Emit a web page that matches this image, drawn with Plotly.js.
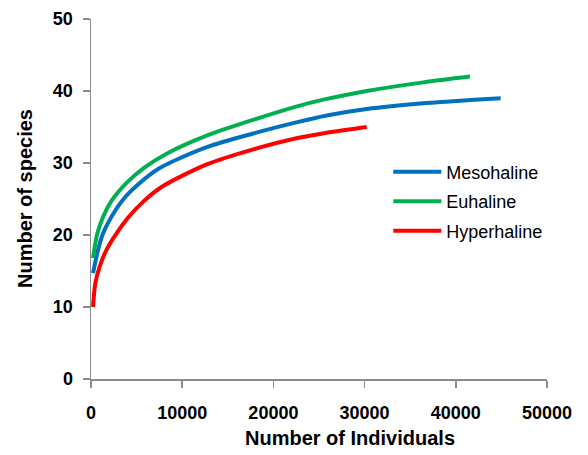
<!DOCTYPE html>
<html>
<head>
<meta charset="utf-8">
<script src="https://cdn.plot.ly/plotly-3.0.1.min.js"></script>
<style>html,body{margin:0;padding:0;background:#fff;}#chart{width:588px;height:455px;}</style>
</head>
<body>
<div id="chart"></div>
<script>
var seriesNames = ["Mesohaline", "Euhaline", "Hyperhaline"];
var mesoX = [220, 768, 1316, 2230, 3509, 5154, 7400, 12686, 17800, 22400, 25843, 30230, 36440, 41557, 44920];
var mesoY = [14.7, 17.9, 20.2, 22.5, 24.9, 27.0, 29.2, 32.2, 34.1, 35.6, 36.6, 37.5, 38.3, 38.75, 39.0];
var euX = [220, 694, 1316, 2230, 3874, 5885, 8443, 12686, 17800, 22400, 25843, 30230, 36440, 41557];
var euY = [16.8, 20.2, 22.5, 24.7, 27.2, 29.4, 31.4, 33.8, 36.0, 37.8, 38.9, 40.0, 41.2, 42.0];
var hyX = [220, 475, 950, 1682, 2778, 4057, 5702, 7650, 12686, 17800, 22400, 25843, 30230];
var hyY = [10.0, 13.3, 15.6, 17.9, 20.2, 22.4, 24.6, 26.6, 29.8, 31.9, 33.4, 34.2, 35.0];
var xTicks = [0, 10000, 20000, 30000, 40000, 50000];
var yTicks = [0, 10, 20, 30, 40, 50];
var colors = ["#0070C0", "#00B050", "#FF0000"];

var xs = [mesoX, euX, hyX], ys = [mesoY, euY, hyY];
var traces = seriesNames.map(function (n, i) {
  return {
    x: xs[i], y: ys[i], name: n, type: "scatter", mode: "lines",
    line: {color: colors[i], width: 4, shape: "spline", smoothing: 0.8},
    legendgroup: "g" + i
  };
});

var axisCommon = {
  showgrid: false, zeroline: false, showline: true, linecolor: "#8c8c8c", linewidth: 1.5,
  ticks: "outside", ticklen: 7, tickcolor: "#8c8c8c", tickwidth: 1.5,
  tickfont: {family: "Arial, Liberation Sans, sans-serif", size: 18, color: "#000", weight: "bold"}
};

var layout = {
  width: 588, height: 455,
  margin: {l: 91, r: 41, t: 19, b: 76},
  paper_bgcolor: "#fff", plot_bgcolor: "#fff",
  showlegend: true,
  legend: {
    x: 0.652, y: 0.626, xanchor: "left", yanchor: "top",
    font: {family: "Arial, Liberation Sans, sans-serif", size: 18, color: "#000"},
    traceorder: "grouped", tracegroupgap: 3, itemwidth: 48, bgcolor: "rgba(0,0,0,0)"
  },
  xaxis: Object.assign({}, axisCommon, {range: [0, 50000], tickvals: xTicks, ticktext: xTicks.map(String), ticklabelstandoff: 10}),
  yaxis: Object.assign({}, axisCommon, {range: [0, 50], tickvals: yTicks, ticktext: yTicks.map(String), ticklabelstandoff: 6}),
  annotations: [
    {text: "Number of Individuals", xref: "paper", yref: "paper", x: (350 - 91) / 456, y: -(438 - 379) / 360,
     xanchor: "center", yanchor: "middle", showarrow: false,
     font: {family: "Arial, Liberation Sans, sans-serif", size: 20, color: "#000", weight: "bold"}},
    {text: "Number of species", xref: "paper", yref: "paper", x: -(91 - 25) / 456, y: 0.5,
     xanchor: "center", yanchor: "middle", showarrow: false, textangle: -90,
     font: {family: "Arial, Liberation Sans, sans-serif", size: 20, color: "#000", weight: "bold"}}
  ]
};

Plotly.newPlot("chart", traces, layout, {displayModeBar: false, staticPlot: true});
</script>
</body>
</html>
